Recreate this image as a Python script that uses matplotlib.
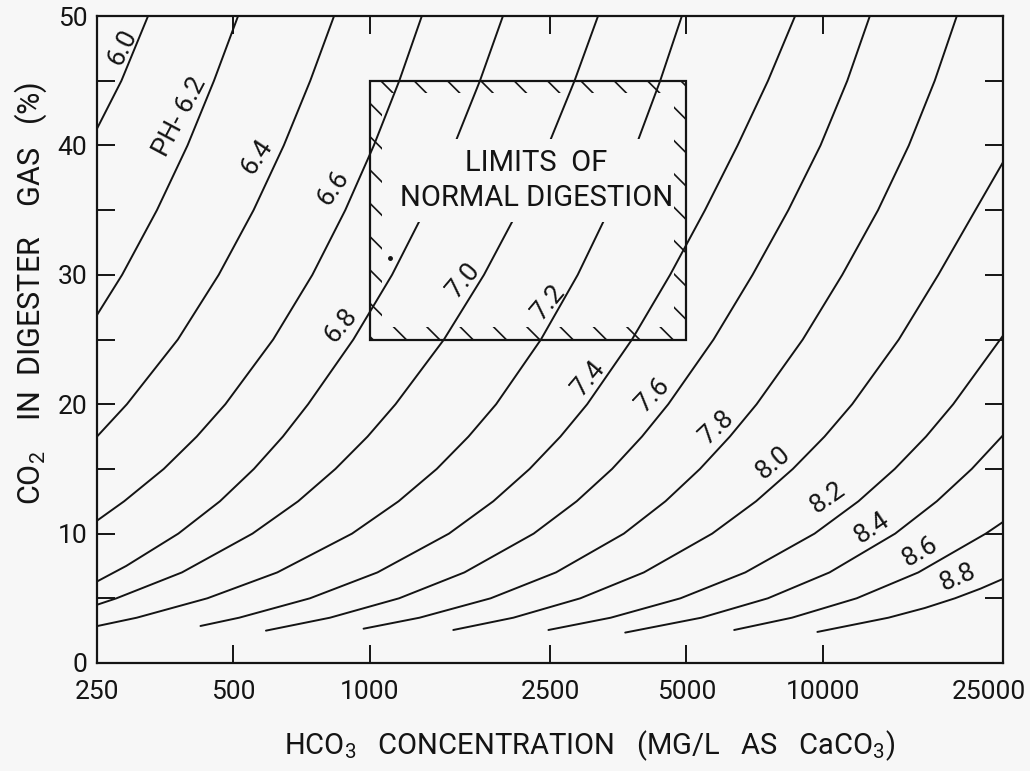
import matplotlib
matplotlib.use("Agg")
import matplotlib.pyplot as plt
from matplotlib.path import Path
from matplotlib.patches import PathPatch, Rectangle
from matplotlib.ticker import FixedLocator, NullLocator
from matplotlib.transforms import ScaledTranslation

plt.rcParams['font.family'] = ['Roboto', 'DejaVu Sans']
plt.rcParams['mathtext.fontset'] = 'custom'
plt.rcParams['mathtext.rm'] = 'Roboto'
plt.rcParams['mathtext.it'] = 'Roboto'
plt.rcParams['hatch.linewidth'] = 1.2

# curves: HCO3 (mg/L as CaCO3) vs CO2 (%)
hco3_60 = [250, 283, 324]
co2_60 = [41.3, 45, 50]
hco3_62 = [250, 284, 339, 396, 453, 512]
co2_62 = [26.9, 30, 35, 40, 45, 50]
hco3_64 = [250, 291, 377, 464, 554, 646, 739, 834]
co2_64 = [17.5, 20, 25, 30, 35, 40, 45, 50]
hco3_66 = [250, 287, 351, 415, 480, 612, 747, 883, 1021, 1162, 1303]
co2_66 = [11, 12.5, 15, 17.5, 20, 25, 30, 35, 40, 45, 50]
hco3_68 = [250, 290, 378, 467, 555, 643, 731, 920, 1120, 1324, 1535, 1751, 1968]
co2_68 = [6.3, 7.5, 10, 12.5, 15, 17.5, 20, 25, 30, 35, 40, 45, 50]
hco3_70 = [250, 276, 385, 551, 695, 840, 989, 1140, 1458, 1787, 2128, 2477, 2832, 3191]
co2_70 = [4.5, 5, 7, 10, 12.5, 15, 17.5, 20, 25, 30, 35, 40, 45, 50]
hco3_72 = [250, 306, 438, 625, 914, 1158, 1406, 1652, 1901, 2387, 2878, 3373, 3873, 4377, 4886]
co2_72 = [2.85, 3.5, 5, 7, 10, 12.5, 15, 17.5, 20, 25, 30, 35, 40, 45, 50]
hco3_74 = [423, 515, 738, 1040, 1496, 1874, 2254, 2636, 3020, 3792, 4603, 5496, 6486, 7571, 8688]
co2_74 = [2.86, 3.5, 5, 7, 10, 12.5, 15, 17.5, 20, 25, 30, 35, 40, 45, 50]
hco3_76 = [590, 817, 1161, 1618, 2301, 2863, 3428, 3990, 4560, 5740, 6999, 8395, 9886, 11328, 12703]
co2_76 = [2.5, 3.5, 5, 7, 10, 12.5, 15, 17.5, 20, 25, 30, 35, 40, 45, 50]
hco3_78 = [969, 1288, 1849, 2577, 3639, 4496, 5358, 6237, 7145, 9034, 11042, 13245, 15488, 17667, 19766]
co2_78 = [2.65, 3.5, 5, 7, 10, 12.5, 15, 17.5, 20, 25, 30, 35, 40, 45, 50]
hco3_80 = [1529, 2075, 2917, 4028, 5701, 7126, 8591, 10092, 11614, 14719, 17991, 21727, 25000]
co2_80 = [2.55, 3.5, 5, 7, 10, 12.5, 15, 17.5, 20, 25, 30, 35, 38.7]
hco3_82 = [2480, 3404, 4852, 6746, 9593, 11991, 14422, 16904, 19408, 25000]
co2_82 = [2.55, 3.5, 5, 7, 10, 12.5, 15, 17.5, 20, 25.3]
hco3_84 = [3664, 5395, 7567, 10352, 14452, 17859, 21332, 25000]
co2_84 = [2.35, 3.5, 5, 7, 10, 12.5, 15, 17.6]
hco3_86 = [6375, 8551, 11883, 16257, 22906, 25000]
co2_86 = [2.55, 3.5, 5, 7, 10, 10.9]
hco3_88 = [9731, 13964, 16801, 19584, 22316, 25000]
co2_88 = [2.4, 3.5, 4.25, 5, 5.75, 6.5]

# curve labels: text, position (HCO3, CO2), rotation
ph_labels = ["6.0", "PH- 6.2", "6.4", "6.6", "6.8", "7.0", "7.2", "7.4",
             "7.6", "7.8", "8.0", "8.2", "8.4", "8.6", "8.8"]
label_x = [285, 381, 564, 830, 864, 1607, 2475, 3033,
           4220, 5843, 7768, 10221, 12845, 16400, 19890]
label_y = [47.6, 42.2, 39.1, 36.7, 26.1, 29.6, 27.9, 22.0,
           20.7, 18.2, 15.5, 12.8, 10.4, 8.6, 6.6]
label_rot = [63, 62, 56, 55, 50, 50, 50, 50, 46, 43, 40, 35, 34, 30, 23]

x_ticks = [250, 500, 1000, 2500, 5000, 10000, 25000]
x_ticklabels = ["250", "500", "1000", "2500", "5000", "10000", "25000"]

# limits of normal digestion
box_x = [1000, 5000]
box_y = [25, 45]

bg = "#f7f7f7"
ink = "#141414"

fig = plt.figure(figsize=(10.30, 7.71), dpi=100, facecolor=bg)
ax = fig.add_axes([0.0942, 0.1401, 0.8796, 0.8391], facecolor=bg)

curves = [(hco3_60, co2_60), (hco3_62, co2_62), (hco3_64, co2_64),
          (hco3_66, co2_66), (hco3_68, co2_68), (hco3_70, co2_70),
          (hco3_72, co2_72), (hco3_74, co2_74), (hco3_76, co2_76),
          (hco3_78, co2_78), (hco3_80, co2_80), (hco3_82, co2_82),
          (hco3_84, co2_84), (hco3_86, co2_86), (hco3_88, co2_88)]
for xs, ys in curves:
    ax.plot(xs, ys, color=ink, lw=1.4, zorder=2, solid_capstyle='round',
            solid_joinstyle='round')

for txt, lx, ly, rot in zip(ph_labels, label_x, label_y, label_rot):
    ax.text(lx, ly, txt, rotation=rot, rotation_mode='anchor',
            ha='center', va='center', fontsize=19, color=ink, zorder=3)

# hatched box
x0, x1 = box_x
y0, y1 = box_y
ix0, ix1 = x0 * 1.063, x1 / 1.063
iy0, iy1 = y0 + 0.93, y1 - 0.93
verts = [(x0, y0), (x1, y0), (x1, y1), (x0, y1), (x0, y0),
         (ix0, iy0), (ix0, iy1), (ix1, iy1), (ix1, iy0), (ix0, iy0)]
codes = [Path.MOVETO, Path.LINETO, Path.LINETO, Path.LINETO, Path.CLOSEPOLY] * 2
band = PathPatch(Path(verts, codes), facecolor='none', edgecolor=ink,
                 lw=0, hatch='\\', zorder=5)
ax.add_patch(band)
ax.add_patch(Rectangle((x0, y0), x1 - x0, y1 - y0, fill=False,
                       edgecolor=ink, lw=1.6, zorder=6))
ax.text(2330, 37.3, "LIMITS  OF\nNORMAL DIGESTION", ha='center', va='center',
        fontsize=21, color=ink, linespacing=1.3, zorder=4,
        bbox=dict(boxstyle='square,pad=0.35', fc=bg, ec='none'))

# stray dot inside the box
ax.plot([1109], [31.3], 'o', color=ink, ms=2.5, zorder=3)

ax.set_xscale('log')
ax.set_xlim(250, 25000)
ax.set_ylim(0, 50)
ax.xaxis.set_major_locator(FixedLocator(x_ticks))
ax.xaxis.set_minor_locator(NullLocator())
ax.set_xticklabels(x_ticklabels)
ax.yaxis.set_major_locator(FixedLocator([0, 10, 20, 30, 40, 50]))
ax.yaxis.set_minor_locator(FixedLocator([5, 15, 25, 35, 45]))
ax.tick_params(which='both', direction='in', length=13, width=1.4,
               top=True, right=True, colors=ink, labelsize=19)
ax.tick_params(axis='x', pad=12)
ax.tick_params(axis='y', pad=7)
for s in ax.spines.values():
    s.set_linewidth(1.6)
    s.set_color(ink)

# last x label sits a little inside the corner, as on the original
last = ax.get_xticklabels()[-1]
last.set_transform(last.get_transform() + ScaledTranslation(-0.14, 0, fig.dpi_scale_trans))

fig.text(0.572, 0.022, r"HCO$_3$   CONCENTRATION   (MG/L   AS   CaCO$_3$)",
         ha='center', va='baseline', fontsize=21, color=ink)
fig.text(0.030, 1 - 293 / 771, r"CO$_2$    IN  DIGESTER    GAS   (%)",
         rotation=90, ha='center', va='center', fontsize=22, color=ink)

fig.savefig("out.png", dpi=100, facecolor=bg)
